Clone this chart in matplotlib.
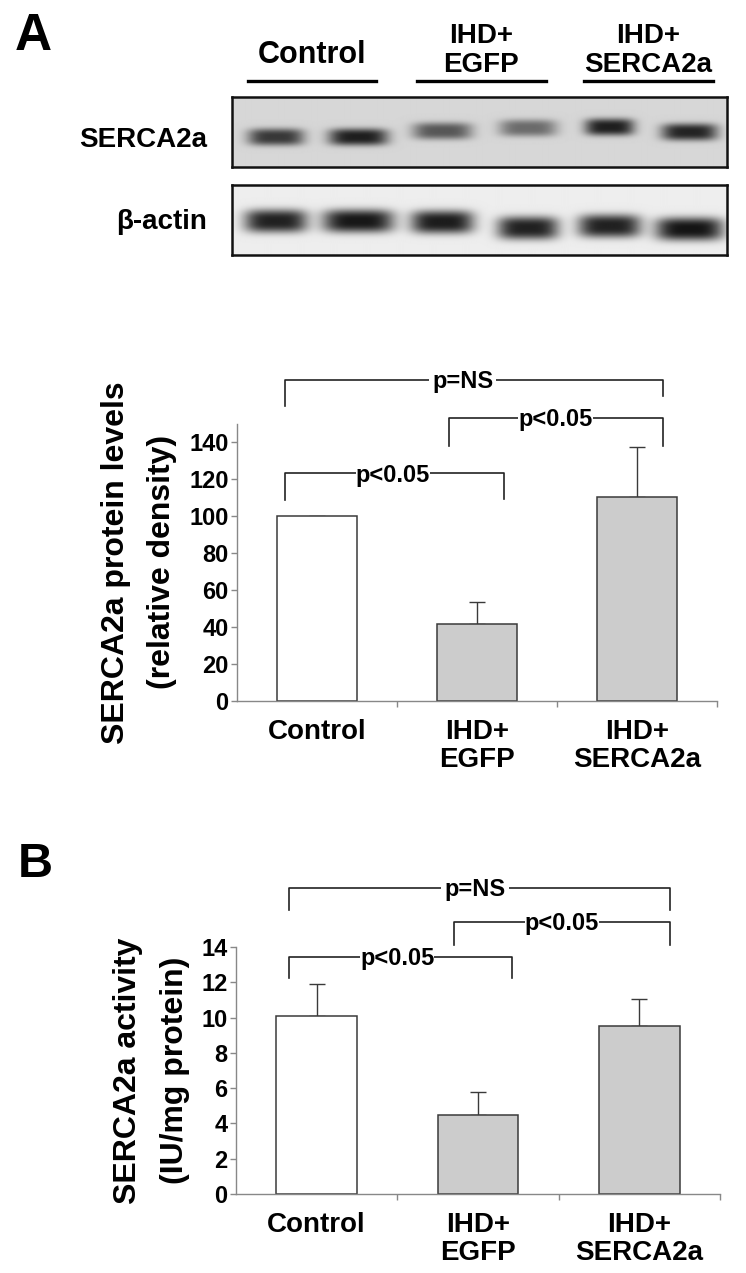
import numpy as np
import matplotlib
matplotlib.use("Agg")
import matplotlib.pyplot as plt
from matplotlib.lines import Line2D

plt.rcParams['font.family'] = ['Liberation Sans', 'DejaVu Sans']
plt.rcParams['font.weight'] = 'bold'

W, H = 746, 1273

groups = ["Control", "IHD+\nEGFP", "IHD+\nSERCA2a"]

# --- western blot (lane positions in lane units, rows in px from strip top)
lane_x = [0.53, 1.53, 2.55, 3.59, 4.58, 5.55]
serca_dark = [0.62, 0.72, 0.50, 0.42, 0.72, 0.70]
serca_row = [40, 40, 34, 31, 30, 35]
serca_halfw = [0.34, 0.36, 0.36, 0.35, 0.30, 0.34]
actin_dark = [0.80, 0.84, 0.82, 0.80, 0.80, 0.85]
actin_row = [36, 36, 37, 43, 41, 44]
actin_halfw = [0.38, 0.43, 0.38, 0.37, 0.38, 0.41]
header_x = [0.97, 3.02, 5.05]

# --- panel A: SERCA2a protein (relative density)
prot_mean = [100, 41.6, 110.3]
prot_err = [0, 12.0, 27.0]
# brackets: x1, x2, y, left drop, right drop, text, text x
prot_brackets = [
    (-0.20, 2.16, 173.5, 159.5, 165.0, "p=NS", 0.91),
    (0.825, 2.16, 153.0, 138.0, 138.0, "p<0.05", 1.49),
    (-0.20, 1.17, 123.0, 108.6, 109.0, "p<0.05", 0.475),
]

# --- panel B: SERCA2a activity
act_mean = [10.09, 4.48, 9.52]
act_err = [1.81, 1.30, 1.53]
act_brackets = [
    (-0.17, 2.19, 17.35, 16.1, 16.1, "p=NS", 0.98),
    (0.85, 2.19, 15.42, 14.1, 14.1, "p<0.05", 1.52),
    (-0.17, 1.21, 13.43, 12.24, 12.24, "p<0.05", 0.50),
]

fig = plt.figure(figsize=(W / 100, H / 100), dpi=100)


def fbox(x0, y0, x1, y1):
    return [x0 / W, 1 - y1 / H, (x1 - x0) / W, (y1 - y0) / H]


def strip(rect, dark, rows, halfw, height, sig, bg):
    ax = fig.add_axes(fbox(*rect))
    xs = np.linspace(0, 6, 600)
    ys = np.arange(height) + 0.5
    X, Y = np.meshgrid(xs, ys)
    img = np.full_like(X, bg)
    for xc, yc, hw, d in zip(lane_x, rows, halfw, dark):
        img -= d * np.exp(-((X - xc) / hw) ** 4) * np.exp(-np.abs((Y - yc) / sig) ** 3)
    ax.imshow(np.clip(img, 0, 1), cmap='gray', vmin=0, vmax=1,
              extent=(0, 6, height, 0), aspect='auto', interpolation='bilinear')
    ax.set_xlim(0, 6)
    ax.set_ylim(height, 0)
    ax.set_xticks([])
    ax.set_yticks([])
    for s in ax.spines.values():
        s.set_linewidth(1.8)
        s.set_color('#111111')
    return ax

ax_s = strip((232, 97, 727, 167), serca_dark, serca_row, serca_halfw, 70, 8.5, 0.84)
ax_a = strip((232, 185, 727, 255), actin_dark, actin_row, actin_halfw, 70, 11.5, 0.93)

ax_s.text(-0.05, 50, "SERCA2a", transform=ax_s.get_yaxis_transform(),
          ha='right', va='baseline', fontsize=20)
ax_a.text(-0.05, 44, "β-actin", transform=ax_a.get_yaxis_transform(),
          ha='right', va='baseline', fontsize=20)

# group headers above the blot
for cx in header_x:
    ax_s.add_line(Line2D([cx - 0.78, cx + 0.78], [-16, -16], color='black',
                         lw=2.4, clip_on=False))
ax_s.text(header_x[0], -34, "Control", ha='center', va='baseline', fontsize=22)
ax_s.text(header_x[1], -54, "IHD+", ha='center', va='baseline', fontsize=20)
ax_s.text(header_x[1], -25, "EGFP", ha='center', va='baseline', fontsize=20)
ax_s.text(header_x[2], -54, "IHD+", ha='center', va='baseline', fontsize=20)
ax_s.text(header_x[2], -25, "SERCA2a", ha='center', va='baseline', fontsize=20)

fig.text(15 / W, 1 - 50 / H, "A", fontsize=37, va='baseline')
fig.text(18 / W, 1 - 877 / H, "B", fontsize=35, va='baseline')


def bar_panel(rect, means, errs, ymax, yticks, brackets, ylab1, ylab2, xl1, xl2):
    ax = fig.add_axes(fbox(*rect))
    x = np.arange(len(means))
    ax.bar(x, means, width=0.5, color=['white', '#cccccc', '#cccccc'],
           edgecolor='#3a3a3a', linewidth=1.1, zorder=2)
    up = [e if e > 0 else np.nan for e in errs]
    ax.errorbar(x, means, yerr=[np.zeros(len(means)), up], fmt='none',
                ecolor='#3a3a3a', elinewidth=1.0, capsize=6, capthick=1.0, zorder=1)
    ax.set_xlim(-0.5, 2.5)
    ax.set_ylim(0, ymax)
    ax.set_yticks(yticks)
    ax.tick_params(axis='y', direction='out', length=4, width=1, color='#888888',
                   labelsize=17, pad=2)
    ax.set_xticks(x, groups, fontsize=20, linespacing=1.1, va='top')
    ax.set_xticks([0.5, 1.5, 2.5], minor=True)
    ax.tick_params(axis='x', which='major', length=0, pad=13)
    ax.tick_params(axis='x', which='minor', direction='out', length=4, width=1,
                   color='#888888')
    for s in ['top', 'right']:
        ax.spines[s].set_visible(False)
    for s in ['left', 'bottom']:
        ax.spines[s].set_color('#888888')
        ax.spines[s].set_linewidth(1.0)
    for x1, x2, y, d1, d2, txt, tx in brackets:
        ax.plot([x1, x1, x2, x2], [d1, y, y, d2], color='#222222', lw=1.2,
                clip_on=False, zorder=3)
        gap = 0.14 if txt == "p=NS" else 0.0
        ax.annotate(txt, (tx, y), xytext=(0, -6), textcoords='offset points',
                    ha='center', va='baseline', fontsize=17, zorder=4,
                    annotation_clip=False,
                    bbox=dict(boxstyle=f'square,pad={gap}', fc='white', ec='none'))
    ax.text(xl1, 0.5, ylab1, transform=ax.transAxes, rotation=90,
            ha='center', va='center', fontsize=23)
    ax.text(xl2, 0.5, ylab2, transform=ax.transAxes, rotation=90,
            ha='center', va='center', fontsize=23)
    return ax

bar_panel((237, 423.5, 717, 701), prot_mean, prot_err, 150, range(0, 141, 20),
          prot_brackets, "SERCA2a protein levels", "(relative density)",
          (116 - 237) / 480, (162 - 237) / 480)
bar_panel((236, 947, 720, 1194), act_mean, act_err, 14, range(0, 15, 2),
          act_brackets, "SERCA2a activity", "(IU/mg protein)",
          (128 - 236) / 484, (175 - 236) / 484)

fig.savefig("out.png", dpi=100)
